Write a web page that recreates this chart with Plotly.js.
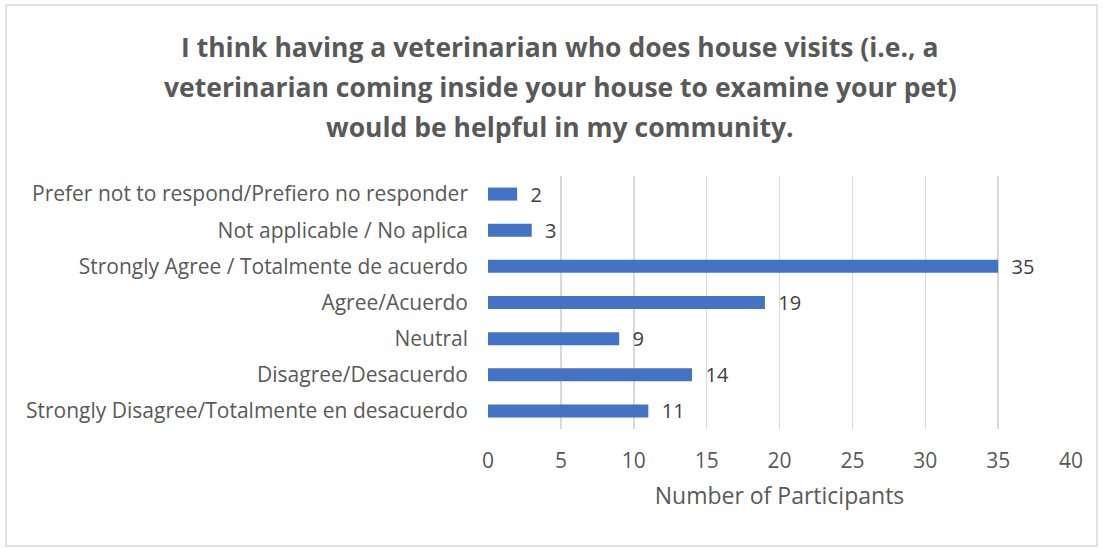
<!DOCTYPE html>
<html>
<head>
<meta charset="utf-8">
<script src="https://cdn.plot.ly/plotly-3.0.1.min.js"></script>
<style>
  html, body { margin: 0; padding: 0; background: #ffffff; }
  #chart { width: 1103px; height: 548px; }
</style>
</head>
<body>
<div id="chart"></div>
<script>
// Categories listed top to bottom as shown in the chart
const categories = [
  "Prefer not to respond/Prefiero no responder",
  "Not applicable / No aplica",
  "Strongly Agree / Totalmente de acuerdo",
  "Agree/Acuerdo",
  "Neutral",
  "Disagree/Desacuerdo",
  "Strongly Disagree/Totalmente en desacuerdo"
];
const participants = [2, 3, 35, 19, 9, 14, 11];
const xTicks = [0, 5, 10, 15, 20, 25, 30, 35, 40];

const titleLines = [
  "I think having a veterinarian who does house visits (i.e., a",
  "veterinarian coming inside your house to examine your pet)",
  "would be helpful in my community."
];
const xTitle = "Number of Participants";

const FONT = "'Open Sans', sans-serif";
const PW = 583, PH = 253, ML = 488, MT = 176;

const trace = {
  type: "bar",
  orientation: "h",
  y: categories,
  x: participants,
  marker: { color: "#4472C4" },
  text: participants.map(v => "  " + v),
  textposition: "outside",
  constraintext: "none",
  cliponaxis: false,
  textfont: { family: FONT, size: 20, color: "#404040" },
  hoverinfo: "x+y"
};

const titleAnnotations = titleLines.map((line, i) => ({
  text: "<b>" + line + "</b>",
  xref: "paper",
  yref: "paper",
  x: (560 - ML) / PW,
  y: (MT + PH - (47 + 40 * i)) / PH,
  xanchor: "center",
  yanchor: "middle",
  showarrow: false,
  font: { family: FONT, size: 26.5, color: "#595959" }
}));

const layout = {
  width: 1103,
  height: 548,
  paper_bgcolor: "#ffffff",
  plot_bgcolor: "#ffffff",
  margin: { l: ML, r: 1103 - ML - PW, t: MT, b: 548 - MT - PH, pad: 0 },
  bargap: 0.64,
  showlegend: false,
  font: { family: FONT, color: "#595959" },
  xaxis: {
    range: [0, 40],
    tickvals: xTicks,
    ticktext: xTicks.map(String),
    showgrid: true,
    gridcolor: "#d9d9d9",
    gridwidth: 1.5,
    zeroline: false,
    showline: false,
    ticks: "",
    tickfont: { family: FONT, size: 21, color: "#595959" },
    ticklabelstandoff: 17,
    title: {
      text: xTitle,
      font: { family: FONT, size: 23, color: "#595959" },
      standoff: 14
    },
    fixedrange: true
  },
  yaxis: {
    type: "category",
    autorange: "reversed",
    showgrid: false,
    zeroline: false,
    showline: false,
    ticks: "",
    tickfont: { family: FONT, size: 21, color: "#595959" },
    ticklabelstandoff: 19,
    fixedrange: true
  },
  annotations: titleAnnotations,
  shapes: [{
    type: "rect",
    xref: "paper",
    yref: "paper",
    x0: (6 - ML) / PW,
    x1: (1097 - ML) / PW,
    y0: (MT + PH - 546) / PH,
    y1: (MT + PH - 5) / PH,
    line: { color: "#d9d9d9", width: 1.5 },
    fillcolor: "rgba(0,0,0,0)",
    layer: "below"
  }]
};

Plotly.newPlot("chart", [trace], layout, { displayModeBar: false, staticPlot: true });
</script>
</body>
</html>
